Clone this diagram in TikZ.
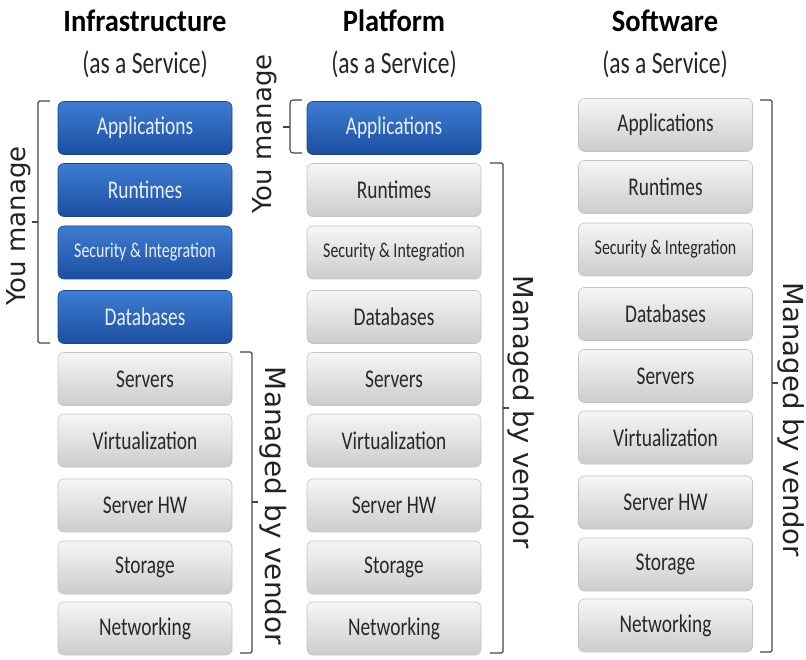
\documentclass[tikz,border=0pt]{standalone}
\usepackage{fontspec}
\setmainfont{Carlito}
\newfontfamily\boxfont[FakeStretch=0.76]{Carlito}
\newfontfamily\titlefont[FakeStretch=0.92]{Carlito}
\newfontfamily\labfont{DejaVu Sans}
\definecolor{blueTop}{RGB}{62,125,210}
\definecolor{blueBot}{RGB}{28,78,160}
\definecolor{blueEdge}{RGB}{30,70,140}
\definecolor{blueText}{RGB}{232,240,252}
\definecolor{grayTop}{RGB}{246,246,246}
\definecolor{grayBot}{RGB}{204,204,204}
\definecolor{grayEdge}{RGB}{196,196,196}
\definecolor{grayText}{RGB}{40,40,40}
\definecolor{braceC}{RGB}{70,70,70}
\definecolor{labC}{RGB}{35,35,35}
\newcommand\SecInt{{\fontsize{21}{23}\selectfont Security \& Integration}}
\begin{document}
\begin{tikzpicture}[x=1pt,y=-1pt,
  layer/.style={rounded corners=6pt, minimum width=174pt, minimum height=53pt,
    inner sep=0pt, font=\boxfont\fontsize{25.5}{28}\selectfont, line width=0.6pt},
  mine/.style={layer, top color=blueTop, bottom color=blueBot, text=blueText, draw=blueEdge},
  vend/.style={layer, top color=grayTop, bottom color=grayBot, text=grayText, draw=grayEdge},
  brace/.style={draw=braceC, line width=1.1pt, rounded corners=1.5pt},
  lab/.style={font=\labfont, text=labC, inner sep=0pt},
  ttl/.style={font=\titlefont\bfseries\fontsize{31}{34}\selectfont, anchor=base, inner sep=0pt, text=black},
  sub/.style={font=\boxfont\fontsize{31}{34}\selectfont, anchor=base, inner sep=0pt, text=black!85}]
\useasboundingbox (0,0) rectangle (806,660);
\fill[white] (0,0) rectangle (806,660);

% titles
\node[ttl] (t1) at (145,32) {Infrastructure};
\node[ttl] (t2) at (394,32) {Platform};
\node[ttl] (t3) at (665,32) {Software};
\node[sub] (u1) at (145,74) {(as a Service)};
\node[sub] (u2) at (394,74) {(as a Service)};
\node[sub] (u3) at (665,74) {(as a Service)};

% columns
\foreach \t/\y [count=\i] in {Applications/128, Runtimes/190, \SecInt/252.5, Databases/317,
   Servers/379, Virtualization/440.5, Server HW/505.5, Storage/567.5, Networking/628.5}{
  \ifnum\i<5 \tikzset{cur/.style={mine}}\else\tikzset{cur/.style={vend}}\fi
  \node[cur] (i\i) at (145,\y) {\t};
  \ifnum\i<2 \tikzset{cur/.style={mine}}\else\tikzset{cur/.style={vend}}\fi
  \node[cur] (p\i) at (394,\y) {\t};
  \node[vend] (s\i) at (665.5,\y-3) {\t};
}

% braces
\draw[brace] (50,101) -- (38,101) -- (38,343) -- (50,343);
\draw[brace] (38,222) -- (32,222);
\node[lab, rotate=90, font=\labfont\fontsize{26}{30}\selectfont] (ym1) at (19,226) {You manage};

\draw[brace] (240,352) -- (252,352) -- (252,653) -- (240,653);
\draw[brace] (252,502) -- (258,502);
\node[lab, rotate=-90, font=\labfont\fontsize{27.9}{32}\selectfont] (mv1) at (273,506) {Managed by vendor};

\draw[brace, rounded corners=3pt] (302,100) -- (290,100) -- (290,153) -- (302,153);
\draw[brace] (290,127) -- (283,127);
\node[lab, rotate=90, font=\labfont\fontsize{26}{30}\selectfont] (ym2) at (265,134) {You manage};

\draw[brace] (490,163) -- (503,163) -- (503,653) -- (490,653);
\draw[brace] (503,408) -- (509,408);
\node[lab, rotate=-90, font=\labfont\fontsize{27.4}{32}\selectfont] (mv2) at (521,412) {Managed by vendor};

\draw[brace] (760,100) -- (772,100) -- (772,652) -- (760,652);
\draw[brace] (772,383) -- (778,383);
\node[lab, rotate=-90, font=\labfont\fontsize{27.5}{32}\selectfont] (mv3) at (791,420) {Managed by vendor};
\end{tikzpicture}
\end{document}
